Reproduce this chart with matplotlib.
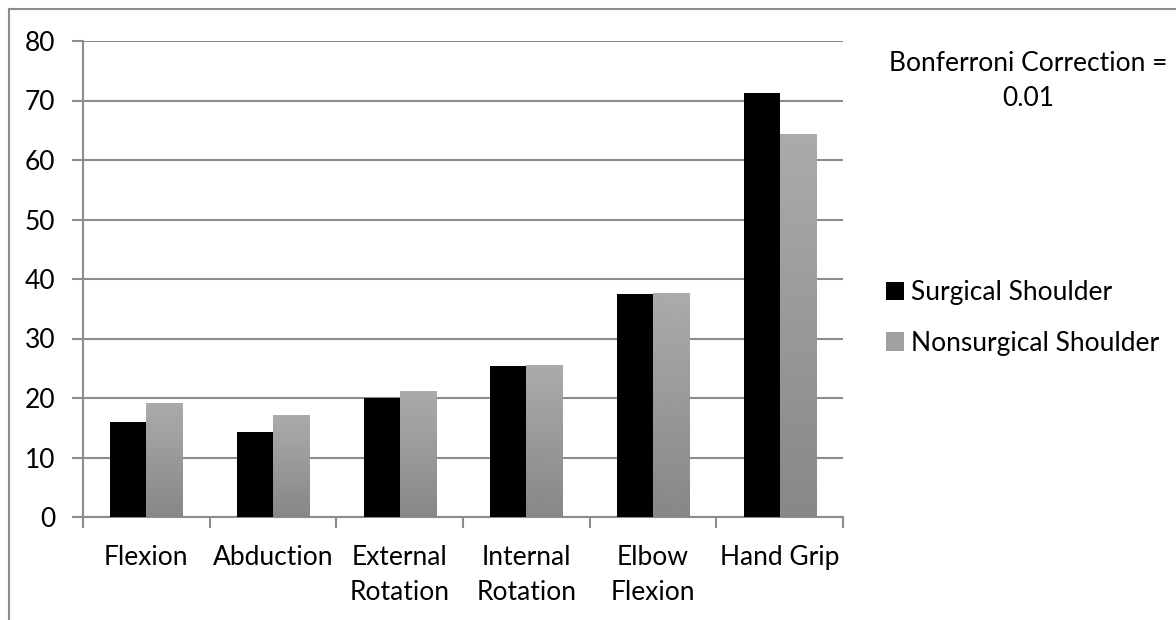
"""
Strength comparison: surgical vs nonsurgical shoulder (Excel-style bar chart).
"""

import matplotlib
matplotlib.use("Agg")
import matplotlib.pyplot as plt
from matplotlib.patches import Patch
from matplotlib.lines import Line2D
import numpy as np

# ── data ─────────────────────────────────────────────────────────────
categories = ["Flexion", "Abduction", "External\nRotation",
              "Internal\nRotation", "Elbow\nFlexion", "Hand Grip"]
surgical = [15.9, 14.3, 20.0, 25.3, 37.5, 71.3]
nonsurgical = [19.0, 17.0, 21.1, 25.5, 37.6, 64.3]
yticks = [0, 10, 20, 30, 40, 50, 60, 70, 80]

# ── style ────────────────────────────────────────────────────────────
plt.rcParams["font.family"] = ["Lato", "DejaVu Sans"]
GRID = "#8C8C8C"
FS = 19

W_PX, H_PX = 1176, 620
fig = plt.figure(figsize=(W_PX / 100, H_PX / 100), dpi=100)
fig.patch.set_facecolor("white")
ax = fig.add_axes([83 / W_PX, 1 - 517 / H_PX, (843 - 83) / W_PX, (517 - 41) / H_PX])

# outer chart border (only left and top visible)
fig.add_artist(Line2D([9 / W_PX, 9 / W_PX], [-0.1, 1 - 9 / H_PX],
                      transform=fig.transFigure, color="#8C8C8C", lw=1.5))
fig.add_artist(Line2D([9 / W_PX, 1.1], [1 - 9 / H_PX, 1 - 9 / H_PX],
                      transform=fig.transFigure, color="#8C8C8C", lw=1.5))

x = np.arange(len(categories))
bw = 0.285

ax.bar(x - bw / 2, surgical, bw, color="black", zorder=3)
bars_ns = ax.bar(x + bw / 2, nonsurgical, bw, color="none", zorder=3)

# vertical grey gradient for the nonsurgical bars
grad = np.linspace(0.67, 0.53, 256).reshape(-1, 1)
for b in bars_ns:
    x0 = b.get_x()
    ax.imshow(grad, cmap="gray", vmin=0, vmax=1, aspect="auto",
              extent=[x0, x0 + b.get_width(), 0, b.get_height()],
              origin="upper", zorder=3, interpolation="bicubic")

ax.set_xlim(-0.5, len(categories) - 0.5)
ax.set_ylim(0, 80)
ax.set_yticks(yticks)
ax.yaxis.grid(True, color=GRID, lw=1.5, zorder=0)
ax.set_axisbelow(True)

for s in ["top", "right"]:
    ax.spines[s].set_visible(False)
ax.spines["left"].set_color(GRID)
ax.spines["left"].set_linewidth(1.5)
ax.spines["bottom"].set_color(GRID)
ax.spines["bottom"].set_linewidth(1.5)

ax.tick_params(axis="y", length=8, width=1.5, color=GRID, labelsize=FS, pad=12)
ax.set_xticks(np.arange(len(categories) + 1) - 0.5)
ax.set_xticklabels([])
ax.tick_params(axis="x", length=8, width=1.5, color=GRID)
ax.set_xticks(x, minor=True)
ax.set_xticklabels(categories, minor=True, fontsize=FS, linespacing=1.5)
ax.tick_params(axis="x", which="minor", length=0, pad=20)

# legend
handles = [Patch(facecolor="black"), Patch(facecolor="#A0A0A0")]
fig.legend(handles, ["Surgical Shoulder", "Nonsurgical Shoulder"],
           loc="center left", bbox_to_anchor=(862 / W_PX, 1 - 318 / H_PX),
           frameon=False, fontsize=FS, handlelength=0.7, handleheight=0.7,
           handletextpad=0.25, labelspacing=0.95)

fig.text(1028 / W_PX, 1 - 71 / H_PX, "Bonferroni Correction =",
         ha="center", va="baseline", fontsize=FS)
fig.text(1028 / W_PX, 1 - 106 / H_PX, "0.01",
         ha="center", va="baseline", fontsize=FS)

fig.savefig("out.png", dpi=100, facecolor="white")
plt.close()
